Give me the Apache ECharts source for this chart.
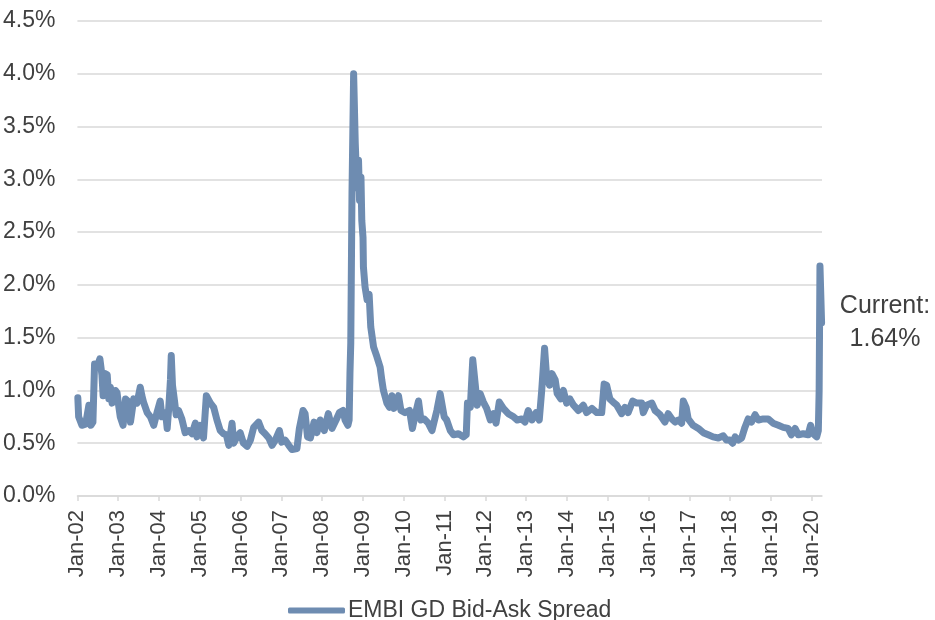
<!DOCTYPE html>
<html>
<head>
<meta charset="utf-8">
<script src="https://cdn.jsdelivr.net/npm/echarts@6/dist/echarts.min.js"></script>
<style>
html,body{margin:0;padding:0;background:#fff;}
#chart{width:935px;height:620px;}
</style>
</head>
<body>
<div id="chart"></div>
<script>
// Fractional years (x) and EMBI GD bid-ask spread in % (y)
const dates = [
2002.01,2002.03,2002.11,2002.20,2002.28,2002.33,2002.38,2002.42,2002.48,2002.55,2002.60,2002.63,2002.67,2002.73,2002.77,2002.81,2002.85,2002.93,2002.97,
2003.01,2003.05,2003.12,2003.18,2003.26,2003.30,2003.38,2003.46,2003.54,2003.58,2003.62,2003.71,2003.79,2003.87,2003.95,
2004.03,2004.07,2004.16,2004.20,2004.24,2004.28,2004.30,2004.33,2004.38,2004.42,2004.48,2004.56,2004.64,2004.73,2004.81,2004.89,2004.93,
2005.01,2005.09,2005.16,2005.26,2005.34,2005.42,2005.50,2005.58,2005.65,2005.71,2005.79,2005.83,2005.91,2005.99,
2006.07,2006.16,2006.24,2006.32,2006.44,2006.52,2006.60,2006.69,2006.77,2006.85,2006.95,
2007.01,2007.09,2007.18,2007.26,2007.38,2007.44,2007.53,2007.58,2007.64,2007.71,2007.80,2007.87,2007.95,
2008.05,2008.15,2008.24,2008.34,2008.42,2008.51,2008.56,2008.63,2008.66,2008.68,2008.70,2008.73,2008.77,2008.81,2008.85,2008.89,2008.915,2008.95,2008.97,
2009.00,2009.01,2009.05,2009.10,2009.15,2009.19,2009.26,2009.34,2009.42,2009.46,2009.50,2009.585,2009.65,2009.71,2009.76,2009.87,2009.93,
2010.03,2010.14,2010.21,2010.28,2010.36,2010.42,2010.50,2010.60,2010.69,2010.73,2010.81,2010.89,2010.99,
2011.05,2011.14,2011.22,2011.34,2011.46,2011.53,2011.56,2011.63,2011.69,2011.75,2011.80,2011.87,2011.95,
2012.03,2012.12,2012.20,2012.26,2012.34,2012.44,2012.56,2012.69,2012.78,2012.89,2012.97,
2013.05,2013.14,2013.24,2013.32,2013.38,2013.45,2013.50,2013.57,2013.63,2013.71,2013.76,2013.85,2013.91,2013.99,
2014.07,2014.16,2014.28,2014.40,2014.48,2014.61,2014.73,2014.85,2014.91,2014.97,
2015.05,2015.13,2015.22,2015.34,2015.42,2015.50,2015.61,2015.71,2015.83,2015.87,2015.95,
2016.08,2016.16,2016.28,2016.40,2016.48,2016.57,2016.65,2016.73,2016.81,2016.85,2016.92,2016.97,
2017.09,2017.22,2017.34,2017.46,2017.58,2017.71,2017.83,2017.91,2017.99,
2018.06,2018.12,2018.20,2018.28,2018.36,2018.44,2018.52,2018.61,2018.69,2018.81,2018.93,
2019.05,2019.18,2019.30,2019.42,2019.50,2019.59,2019.67,2019.79,2019.91,2019.97,
2020.03,2020.12,2020.16,2020.18,2020.20,2020.24
];
const spread = [
0.93,0.75,0.67,0.68,0.86,0.67,0.70,1.25,1.22,1.30,1.15,0.95,1.16,1.15,0.92,1.03,0.88,1.00,0.98,
0.86,0.75,0.67,0.92,0.89,0.70,0.92,0.88,1.03,0.95,0.89,0.79,0.75,0.67,0.79,
0.90,0.75,0.79,0.64,0.84,1.10,1.33,1.05,0.90,0.77,0.81,0.73,0.60,0.62,0.59,0.69,0.56,
0.67,0.55,0.95,0.88,0.84,0.72,0.62,0.59,0.58,0.48,0.69,0.50,0.56,0.60,
0.50,0.47,0.53,0.65,0.70,0.62,0.59,0.55,0.48,0.53,0.62,
0.51,0.53,0.48,0.44,0.45,0.64,0.81,0.78,0.56,0.55,0.70,0.60,0.72,
0.62,0.78,0.64,0.72,0.79,0.81,0.72,0.67,0.72,1.16,1.45,2.87,4.00,3.34,2.92,3.18,2.80,3.02,2.61,
2.45,2.17,1.98,1.86,1.91,1.60,1.41,1.32,1.22,1.10,1.00,0.88,0.84,0.95,0.83,0.95,0.81,
0.79,0.81,0.64,0.77,0.90,0.72,0.73,0.69,0.62,0.62,0.81,0.97,0.75,
0.72,0.62,0.58,0.59,0.56,0.58,0.88,0.84,1.29,1.06,0.86,0.97,0.89,
0.83,0.72,0.78,0.69,0.89,0.83,0.78,0.75,0.72,0.73,0.70,
0.81,0.72,0.79,0.72,1.00,1.40,1.13,1.05,1.16,1.10,0.97,0.92,1.00,0.88,
0.92,0.86,0.81,0.86,0.79,0.83,0.79,0.79,1.06,1.05,
0.92,0.89,0.86,0.78,0.84,0.79,0.90,0.88,0.88,0.79,0.86,
0.88,0.81,0.77,0.70,0.78,0.73,0.70,0.72,0.69,0.90,0.84,0.73,
0.67,0.64,0.60,0.58,0.56,0.55,0.57,0.53,0.53,
0.50,0.56,0.53,0.55,0.65,0.73,0.70,0.77,0.72,0.73,0.73,
0.69,0.67,0.65,0.64,0.58,0.64,0.58,0.59,0.58,0.67,
0.59,0.56,0.62,1.00,2.18,1.64
];
const tickYears = [2002,2003,2004,2005,2006,2007,2008,2009,2010,2011,2012,2013,2014,2015,2016,2017,2018,2019,2020];
const tickLabels = ['Jan-02','Jan-03','Jan-04','Jan-05','Jan-06','Jan-07','Jan-08','Jan-09','Jan-10','Jan-11','Jan-12','Jan-13','Jan-14','Jan-15','Jan-16','Jan-17','Jan-18','Jan-19','Jan-20'];
const yTicks = [0,0.5,1,1.5,2,2.5,3,3.5,4,4.5];
const seriesName = 'EMBI GD Bid-Ask Spread';
const currentValue = 1.64;

const narrow = "'Liberation Sans Narrow','Arial Narrow','Liberation Sans',Arial,sans-serif";
const regular = "'Liberation Sans',Arial,sans-serif";
const lineColor = '#6e8cb1';
const textColor = '#404040';

const data = dates.map((d, i) => [d, spread[i]]);

const chart = echarts.init(document.getElementById('chart'), null, {renderer: 'canvas'});
chart.setOption({
  animation: false,
  backgroundColor: '#ffffff',
  grid: {left: 77, right: 113, top: 21, bottom: 124, containLabel: false},
  xAxis: {
    type: 'value',
    min: 2002,
    max: 2020.25,
    interval: 1,
    axisLine: {show: true, lineStyle: {color: '#d9d9d9', width: 1.5}},
    axisTick: {show: true, length: 5, lineStyle: {color: '#d9d9d9', width: 1.5}, customValues: tickYears},
    splitLine: {show: false},
    axisLabel: {
      customValues: tickYears,
      rotate: 90,
      margin: 14,
      color: textColor,
      fontFamily: narrow,
      fontSize: 22,
      formatter: function (v) {
        const idx = tickYears.indexOf(Math.round(v));
        return (Math.abs(v - Math.round(v)) < 1e-6 && idx >= 0) ? tickLabels[idx] : '';
      }
    }
  },
  yAxis: {
    type: 'value',
    min: yTicks[0],
    max: yTicks[yTicks.length - 1],
    interval: 0.5,
    axisLine: {show: false},
    axisTick: {show: false},
    splitLine: {show: true, lineStyle: {color: '#d9d9d9', width: 1.5}},
    axisLabel: {
      margin: 22,
      color: textColor,
      fontFamily: narrow,
      fontSize: 23,
      formatter: function (v) { return v.toFixed(1) + '%'; }
    }
  },
  legend: {
    show: true,
    left: 283,
    top: 594,
    itemWidth: 57,
    itemHeight: 6,
    itemGap: 10,
    icon: 'roundRect',
    textStyle: {color: textColor, fontFamily: narrow, fontSize: 23, padding: [0, 0, 0, -2]},
    data: [{name: seriesName, icon: 'roundRect'}]
  },
  graphic: [{
    type: 'text',
    left: 837,
    top: 290,
    style: {
      text: 'Current:\n' + currentValue.toFixed(2) + '%',
      fill: textColor,
      font: '25px ' + regular,
      textAlign: 'center',
      lineHeight: 33,
      width: 96
    }
  }],
  series: [{
    name: seriesName,
    type: 'line',
    data: data,
    showSymbol: false,
    symbol: 'none',
    color: lineColor,
    lineStyle: {color: lineColor, width: 7, cap: 'round', join: 'round'},
    emphasis: {disabled: true}
  }]
});
</script>
</body>
</html>
